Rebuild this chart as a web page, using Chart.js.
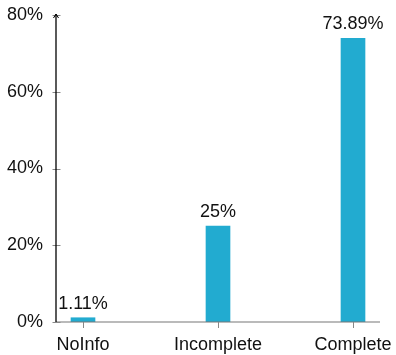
<!DOCTYPE html>
<html>
<head>
<meta charset="utf-8">
<script src="https://cdn.jsdelivr.net/npm/chart.js@4"></script>
<style>
html,body{margin:0;padding:0;background:#fff;}
#wrap{width:396px;height:355px;}
</style>
</head>
<body>
<div id="wrap"><canvas id="c" width="396" height="355"></canvas></div>
<script>
const categories = ["NoInfo", "Incomplete", "Complete"];
const values = [1.11, 25, 73.89];
const valueLabels = ["1.11%", "25%", "73.89%"];
const yTicks = [0, 20, 40, 60, 80];

const FONT = "'Liberation Sans', Arial, sans-serif";
const barColor = '#22abd0';

const axesPlugin = {
  id: 'axesPlugin',
  afterDraw(chart) {
    const ctx = chart.ctx;
    const x = chart.scales.x, y = chart.scales.y;
    const area = chart.chartArea;
    ctx.save();
    // x axis line
    ctx.strokeStyle = '#777';
    ctx.lineWidth = 1.2;
    ctx.beginPath();
    ctx.moveTo(area.left, y.getPixelForValue(0));
    ctx.lineTo(area.right, y.getPixelForValue(0));
    ctx.stroke();
    // x ticks
    categories.forEach((c, i) => {
      const px = Math.round(x.getPixelForValue(i)) + 0.5;
      const py = y.getPixelForValue(0);
      ctx.beginPath();
      ctx.lineWidth = 1;
      ctx.strokeStyle = '#888';
      ctx.moveTo(px, py);
      ctx.lineTo(px, py + 6);
      ctx.stroke();
    });
    // y ticks crossing
    yTicks.forEach(v => {
      const py = Math.round(y.getPixelForValue(v)) + 0.5;
      ctx.beginPath();
      ctx.lineWidth = 1;
      ctx.strokeStyle = '#888';
      ctx.moveTo(area.left - 3.5, py);
      ctx.lineTo(area.left + 4.5, py);
      ctx.stroke();
    });
    // y axis line
    const ax = area.left;
    const top = y.getPixelForValue(80) - 1;
    ctx.strokeStyle = '#000';
    ctx.lineWidth = 1.3;
    ctx.beginPath();
    ctx.moveTo(ax, y.getPixelForValue(0));
    ctx.lineTo(ax, top);
    ctx.stroke();
    // arrow
    ctx.lineWidth = 1;
    ctx.beginPath();
    ctx.moveTo(ax - 2.5, top + 4);
    ctx.lineTo(ax, top);
    ctx.lineTo(ax + 2.5, top + 4);
    ctx.stroke();
    // data labels
    const meta = chart.getDatasetMeta(0);
    ctx.fillStyle = '#111';
    ctx.font = "18px " + FONT;
    ctx.textAlign = 'center';
    ctx.textBaseline = 'alphabetic';
    meta.data.forEach((bar, i) => {
      ctx.fillText(valueLabels[i], bar.x, bar.y - 9);
    });
    ctx.restore();
  }
};

new Chart(document.getElementById('c'), {
  type: 'bar',
  data: {
    datasets: [{
      data: categories.map((c, i) => ({x: i, y: values[i]})),
      backgroundColor: barColor,
      borderWidth: 0,
      barThickness: 24
    }]
  },
  options: {
    responsive: false,
    animation: false,
    devicePixelRatio: 1,
    layout: {padding: {top: 15, right: 16, left: 0, bottom: 0}},
    plugins: {legend: {display: false}, tooltip: {enabled: false}},
    scales: {
      x: {
        type: 'linear',
        offset: false,
        min: -0.2,
        max: 2.2,
        grid: {display: false, drawTicks: false},
        border: {display: false},
        afterBuildTicks(scale) { scale.ticks = categories.map((c, i) => ({value: i})); },
        afterFit(scale) { scale.height = 33; scale.paddingLeft = 0; scale.paddingRight = 0; },
        ticks: {
          autoSkip: false,
          maxRotation: 0,
          padding: 12,
          color: '#111',
          font: {family: FONT, size: 18},
          callback: (v) => categories[v]
        }
      },
      y: {
        min: 0,
        max: 80,
        grid: {display: false, drawTicks: false},
        border: {display: false},
        afterBuildTicks(scale) { scale.ticks = yTicks.map(v => ({value: v})); },
        afterFit(scale) { scale.width = 56; scale.paddingTop = 0; scale.paddingBottom = 0; },
        ticks: {
          padding: 13,
          color: '#111',
          font: {family: FONT, size: 18},
          callback: (v) => v + '%'
        }
      }
    }
  },
  plugins: [axesPlugin]
});
</script>
</body>
</html>
